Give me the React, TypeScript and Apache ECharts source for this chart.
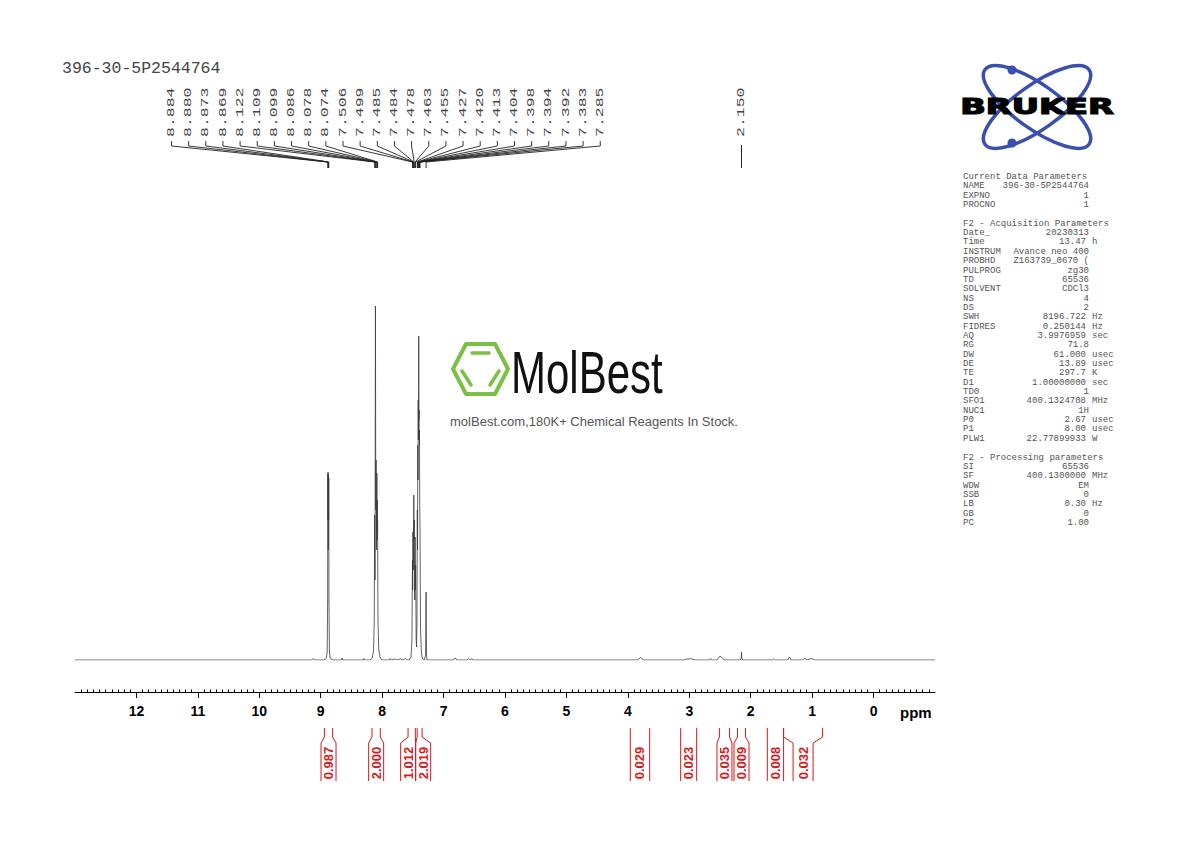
import React, { useEffect, useRef } from "react";
import * as echarts from "echarts";

// ---------- data ----------
const sampleName = "396-30-5P2544764";

// spectrum points [ppm, intensity]
const baselineLeft: [number, number][] = [
  [13.0, 0], [9.15, 0], [9.12, 1.5], [9.1, 0],
];
const group888: [number, number][] = [
  [8.95, 0], [8.91, 1.5], [8.895, 8], [8.887, 60], [8.884, 186], [8.882, 140], [8.88, 188],
  [8.877, 110], [8.873, 185], [8.871, 140], [8.869, 182], [8.866, 60], [8.858, 8], [8.845, 1.5], [8.8, 0],
  [8.66, 0], [8.65, 2], [8.64, 0], [8.31, 0], [8.3, 1.5], [8.29, 0],
];
const group810: [number, number][] = [
  [8.2, 0], [8.16, 2], [8.14, 10], [8.128, 40], [8.122, 145], [8.116, 80], [8.109, 354], [8.104, 150],
  [8.099, 200], [8.093, 110], [8.086, 187], [8.082, 120], [8.078, 160], [8.076, 130], [8.074, 140],
  [8.068, 40], [8.055, 10], [8.03, 2], [8.0, 0],
  [7.88, 0], [7.87, 1.5], [7.85, 0], [7.8, 1], [7.75, 0], [7.7, 1.2], [7.66, 0], [7.62, 1.5], [7.6, 0],
];
const group745: [number, number][] = [
  [7.56, 0], [7.53, 3], [7.515, 20], [7.506, 100], [7.503, 70], [7.499, 128], [7.492, 90], [7.485, 165],
  [7.484, 160], [7.481, 120], [7.478, 140], [7.47, 60], [7.463, 123], [7.459, 70], [7.455, 95],
  [7.446, 20], [7.44, 13], [7.433, 40], [7.427, 150], [7.424, 110], [7.42, 215], [7.416, 180],
  [7.413, 260], [7.409, 220], [7.404, 324], [7.401, 240], [7.398, 250], [7.396, 220], [7.394, 230],
  [7.393, 215], [7.392, 220], [7.388, 150], [7.383, 130], [7.375, 30], [7.36, 6], [7.34, 1], [7.31, 0],
];
const solventPeak: [number, number][] = [
  [7.3, 0], [7.292, 6], [7.285, 68], [7.278, 6], [7.27, 0],
];
const minorPeaks: [number, number][] = [
  [6.85, 0], [6.81, 2], [6.78, 0], [6.62, 0], [6.59, 1.5], [6.56, 0], [6.54, 1.5], [6.52, 0],
  [3.85, 0], [3.81, 1.5], [3.79, 2.5], [3.77, 1.2], [3.74, 0],
  [3.08, 0], [3.04, 1], [3.0, 1.2], [2.95, 1], [2.9, 0],
  [2.68, 0], [2.65, 1.2], [2.62, 0],
  [2.55, 0], [2.52, 2.5], [2.5, 4], [2.48, 3], [2.46, 2], [2.43, 0],
  [2.17, 0], [2.155, 2], [2.15, 8], [2.145, 2], [2.13, 0],
  [1.65, 0], [1.63, 1.2], [1.61, 0],
  [1.4, 0], [1.37, 3], [1.34, 0],
  [1.16, 0], [1.12, 1.5], [1.08, 0], [1.02, 1.5], [0.98, 0.8], [0.95, 0],
  [-1.0, 0],
];

// peak picking labels (aromatic cluster) and single label
const peakLabels = [
  8.884, 8.88, 8.873, 8.869, 8.122, 8.109, 8.099, 8.086, 8.078, 8.074, 7.506, 7.499, 7.485,
  7.484, 7.478, 7.463, 7.455, 7.427, 7.42, 7.413, 7.404, 7.398, 7.394, 7.392, 7.383, 7.285,
];
const singleLabels = [2.15];

// integrals
const integralFrom = [8.94, 8.165, 7.578, 7.43, 3.96, 3.14, 2.51, 2.215, 1.73, 1.465];
const integralTo = [8.806, 8.03, 7.46, 7.35, 3.645, 2.88, 2.345, 2.085, 1.465, 0.83];
const integralValues = ["0.987", "2.000", "1.012", "2.019", "0.029", "0.023", "0.035", "0.009", "0.008", "0.032"];

// parameters panel
const currentParams: [string, string, string][] = [
  ["NAME", "396-30-5P2544764", ""], ["EXPNO", "1", ""], ["PROCNO", "1", ""],
];
const acqParams: [string, string, string][] = [
  ["Date_", "20230313", ""], ["Time", "13.47", "h"], ["INSTRUM", "Avance neo 400", ""],
  ["PROBHD", "Z163739_0670 (", ""], ["PULPROG", "zg30", ""], ["TD", "65536", ""],
  ["SOLVENT", "CDCl3", ""], ["NS", "4", ""], ["DS", "2", ""], ["SWH", "8196.722", "Hz"],
  ["FIDRES", "0.250144", "Hz"], ["AQ", "3.9976959", "sec"], ["RG", "71.8", ""],
  ["DW", "61.000", "usec"], ["DE", "13.89", "usec"], ["TE", "297.7", "K"],
  ["D1", "1.00000000", "sec"], ["TD0", "1", ""], ["SFO1", "400.1324708", "MHz"],
  ["NUC1", "1H", ""], ["P0", "2.67", "usec"], ["P1", "8.00", "usec"], ["PLW1", "22.77899933", "W"],
];
const procParams: [string, string, string][] = [
  ["SI", "65536", ""], ["SF", "400.1300000", "MHz"], ["WDW", "EM", ""], ["SSB", "0", ""],
  ["LB", "0.30", "Hz"], ["GB", "0", ""], ["PC", "1.00", ""],
];

const spectrum = [
  ...baselineLeft, ...group888, ...group810, ...group745, ...solventPeak, ...minorPeaks,
];

const MONO = "'Liberation Mono', 'DejaVu Sans Mono', monospace";
const SANS = "'Liberation Sans', Arial, Helvetica, sans-serif";
const RED = "#d7191c";

export default function App() {
  const ref = useRef<HTMLDivElement>(null);

  useEffect(() => {
    const chart = echarts.init(ref.current!, null, { renderer: "svg" });
    const axisBase = {
      type: "value",
      min: -1,
      max: 13,
      interval: 1,
      inverse: true,
      position: "bottom",
      offset: 32,
      splitLine: { show: false },
    };
    chart.setOption({
      animation: false,
      backgroundColor: "#ffffff",
      grid: { left: 75, right: 255, top: 300, bottom: 182 },
      xAxis: [
        {
          ...axisBase,
          axisLine: { show: true, onZero: false, lineStyle: { color: "#000", width: 1 } },
          axisTick: { show: true, length: 6, lineStyle: { color: "#000", width: 1 } },
          minorTick: { show: false },
          axisLabel: {
            show: true,
            margin: 12,
            fontSize: 14,
            fontWeight: "bold",
            fontFamily: SANS,
            color: "#000",
            showMinLabel: false,
            showMaxLabel: false,
          },
        },
        {
          ...axisBase,
          axisLine: { show: false, onZero: false },
          axisTick: { show: false, inside: true },
          minorTick: { show: true, splitNumber: 10, length: 2.5, lineStyle: { color: "#000", width: 1 } },
          axisLabel: { show: false },
        },
      ],
      yAxis: { type: "value", min: 0, max: 360, show: false },
      series: [
        {
          type: "line",
          xAxisIndex: 0,
          data: spectrum,
          showSymbol: false,
          symbol: "none",
          clip: true,
          lineStyle: { color: "#3a3a3a", width: 0.8 },
        },
      ],
    });

    const px = (ppm: number) => chart.convertToPixel({ xAxisIndex: 0 }, ppm) as number;
    const g: any[] = [];

    // title
    g.push({
      type: "text", x: 62, y: 68, silent: true,
      style: { text: sampleName, fill: "#444", font: `16.5px ${MONO}`, textAlign: "left", textVerticalAlign: "middle" },
    });

    // peak labels
    const labelStart = 171.5;
    const labelPitch = 17.15;
    peakLabels.forEach((ppm, i) => {
      const lx = labelStart + i * labelPitch;
      const p = px(ppm);
      g.push({
        type: "text", x: lx, y: 137, rotation: Math.PI / 2, scaleX: 1.65, silent: true,
        style: { text: ppm.toFixed(3), fill: "#444", font: `10px ${MONO}`, textAlign: "left", textVerticalAlign: "middle" },
      });
      g.push({
        type: "polyline", silent: true,
        shape: { points: [[lx, 141], [lx, 146], [p, 162], [p, 168]] },
        style: { stroke: "#222", lineWidth: 0.9, fill: "none" },
      });
    });
    singleLabels.forEach((ppm) => {
      const p = px(ppm);
      g.push({
        type: "text", x: p, y: 137, rotation: Math.PI / 2, scaleX: 1.65, silent: true,
        style: { text: ppm.toFixed(3), fill: "#444", font: `10px ${MONO}`, textAlign: "left", textVerticalAlign: "middle" },
      });
      g.push({
        type: "line", silent: true,
        shape: { x1: p, y1: 145, x2: p, y2: 168 },
        style: { stroke: "#222", lineWidth: 1 },
      });
    });

    // integrals
    const boxes = integralFrom.map((f, i) => {
      const x1 = px(f);
      const x2 = px(integralTo[i]);
      const c = (x1 + x2) / 2;
      const w = Math.min(Math.max(x2 - x1, 15), 20);
      return { x1, x2, l: c - w / 2, r: c + w / 2 };
    });
    for (let i = 1; i < boxes.length; i++) {
      const ov = boxes[i - 1].r - boxes[i].l;
      if (ov > 0) {
        boxes[i - 1].l -= ov / 2; boxes[i - 1].r -= ov / 2;
        boxes[i].l += ov / 2; boxes[i].r += ov / 2;
      }
    }
    boxes.forEach((b, i) => {
      [[b.x1, b.l], [b.x2, b.r]].forEach(([t, bt]) => {
        g.push({
          type: "polyline", silent: true,
          shape: { points: [[t, 728], [t, 737], [bt, 743], [bt, 781]] },
          style: { stroke: RED, lineWidth: 1, fill: "none" },
        });
      });
      g.push({
        type: "text", x: (b.l + b.r) / 2, y: 763, rotation: Math.PI / 2, silent: true,
        style: { text: integralValues[i], fill: RED, font: `bold 13px ${SANS}`, textAlign: "center", textVerticalAlign: "middle" },
      });
    });

    // ppm unit label
    g.push({
      type: "text", x: 900, y: 712, silent: true,
      style: { text: "ppm", fill: "#000", font: `bold 15px ${SANS}`, textAlign: "left", textVerticalAlign: "middle" },
    });

    // Bruker logo
    const blue = "#3b4fb0";
    g.push({ type: "ellipse", x: 1037, y: 107, rotation: 0.62, silent: true, shape: { cx: 0, cy: 0, rx: 64, ry: 22 }, style: { fill: "none", stroke: blue, lineWidth: 3.5 } });
    g.push({ type: "ellipse", x: 1037, y: 107, rotation: -0.62, silent: true, shape: { cx: 0, cy: 0, rx: 64, ry: 22 }, style: { fill: "none", stroke: blue, lineWidth: 3.5 } });
    g.push({ type: "circle", silent: true, shape: { cx: 1012, cy: 70, r: 4.5 }, style: { fill: blue } });
    g.push({ type: "circle", silent: true, shape: { cx: 1012, cy: 143, r: 4.5 }, style: { fill: blue } });
    g.push({
      type: "text", x: 1037, y: 107, scaleX: 1.6, silent: true,
      style: { text: "BRUKER", fill: "#000", stroke: "#000", lineWidth: 1.2, font: `bold 21px 'DejaVu Sans', ${SANS}`, textAlign: "center", textVerticalAlign: "middle" },
    });

    // parameters
    const rowY = (i: number) => 177 + i * 9.35;
    const pFont = `9px ${MONO}`;
    const pColor = "#555";
    const addHeader = (txt: string, row: number) =>
      g.push({ type: "text", x: 963, y: rowY(row), silent: true, style: { text: txt, fill: pColor, font: pFont, textAlign: "left", textVerticalAlign: "middle" } });
    const addRows = (rows: [string, string, string][], start: number) =>
      rows.forEach(([k, v, u], j) => {
        const y = rowY(start + j);
        g.push({ type: "text", x: 963, y, silent: true, style: { text: k, fill: pColor, font: pFont, textAlign: "left", textVerticalAlign: "middle" } });
        g.push({ type: "text", x: u ? 1086 : 1089, y, silent: true, style: { text: v, fill: pColor, font: pFont, textAlign: "right", textVerticalAlign: "middle" } });
        if (u) g.push({ type: "text", x: 1092, y, silent: true, style: { text: u, fill: pColor, font: pFont, textAlign: "left", textVerticalAlign: "middle" } });
      });
    addHeader("Current Data Parameters", 0);
    addRows(currentParams, 1);
    addHeader("F2 - Acquisition Parameters", 5);
    addRows(acqParams, 6);
    addHeader("F2 - Processing parameters", 30);
    addRows(procParams, 31);

    // MolBest watermark
    const green = "#7ac143";
    g.push({
      type: "polygon", silent: true,
      shape: { points: [[453, 369], [466, 344], [495, 344], [508, 369], [495, 394], [466, 394]] },
      style: { fill: "none", stroke: green, lineWidth: 4, lineJoin: "round" },
    });
    g.push({ type: "line", silent: true, shape: { x1: 472, y1: 353, x2: 489, y2: 353 }, style: { stroke: green, lineWidth: 3.5, lineCap: "round" } });
    g.push({ type: "line", silent: true, shape: { x1: 462, y1: 371, x2: 471, y2: 385 }, style: { stroke: green, lineWidth: 3.5, lineCap: "round" } });
    g.push({ type: "line", silent: true, shape: { x1: 499, y1: 371, x2: 490, y2: 385 }, style: { stroke: green, lineWidth: 3.5, lineCap: "round" } });
    g.push({
      type: "text", x: 511, y: 372, scaleX: 0.7, silent: true,
      style: { text: "MolBest", fill: "#111", font: `60px ${SANS}`, textAlign: "left", textVerticalAlign: "middle" },
    });
    g.push({
      type: "text", x: 594, y: 421, silent: true,
      style: { text: "molBest.com,180K+ Chemical Reagents In Stock.", fill: "#555", font: `13px ${SANS}`, textAlign: "center", textVerticalAlign: "middle" },
    });

    chart.setOption({ graphic: g });
    return () => chart.dispose();
  }, []);

  return (
    <div
      ref={ref}
      style={{ position: "fixed", left: 0, top: 0, width: 1190, height: 842, background: "#fff" }}
    />
  );
}
